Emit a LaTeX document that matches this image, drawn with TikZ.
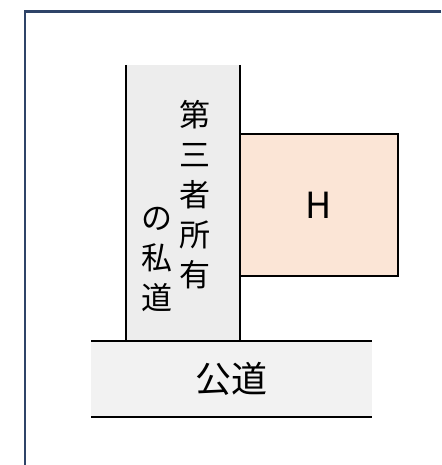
\documentclass[tikz,border=0pt]{standalone}
\usepackage{fontspec}
\setmainfont{Noto Sans CJK JP}
\definecolor{framecol}{HTML}{2F4468}
\definecolor{privfill}{HTML}{EDEDED}
\definecolor{pubfill}{HTML}{F2F2F2}
\definecolor{hfill}{HTML}{FBE5D6}
\tikzset{
  frameline/.style={draw=framecol, line width=2.6pt},
  roadline/.style={draw=black, line width=2pt},
  vtext/.style={inner sep=0pt, align=center, font=\fontsize{31}{40}\selectfont},
  bigtext/.style={inner sep=0pt, font=\fontsize{36}{40}\selectfont},
  hbox/.style={draw=black, line width=2pt, fill=hfill, minimum width=158pt, minimum height=142pt, inner sep=0pt, font=\fontsize{36}{40}\selectfont}
}
\begin{document}
\begin{tikzpicture}[x=1pt,y=-1pt]
\useasboundingbox (0,0) rectangle (441,465);
\fill[white] (0,0) rectangle (441,465);
% frame (cropped)
\coordinate (fr) at (441,11.5);
\coordinate (fc) at (25,11.5);
\coordinate (fb) at (25,465);
\draw[frameline] (fr) -- (fc) -- (fb);
% private road
\coordinate (pl1) at (126,65);
\coordinate (pl2) at (126,341);
\coordinate (pr1) at (240,65);
\coordinate (pr2) at (240,341);
\fill[privfill] (pl1) rectangle (pr2);
\draw[roadline] (pl1) -- (pl2);
\draw[roadline] (pr1) -- (pr2);
% public road
\coordinate (ul) at (91,341);
\coordinate (ur) at (372,341);
\coordinate (bl) at (91,417);
\coordinate (br) at (372,417);
\fill[pubfill] (ul) rectangle (br);
\draw[roadline] (ul) -- (ur);
\draw[roadline] (bl) -- (br);
\node[bigtext] (pub) at (231.5,379) {公道};
% H
\node[hbox] (h) at (319,205) {H};
% vertical text
\node[vtext] (c1) at (195,195) {第\\三\\者\\所\\有};
\node[vtext] (c2) at (157,259) {の\\私\\道};
\end{tikzpicture}
\end{document}
